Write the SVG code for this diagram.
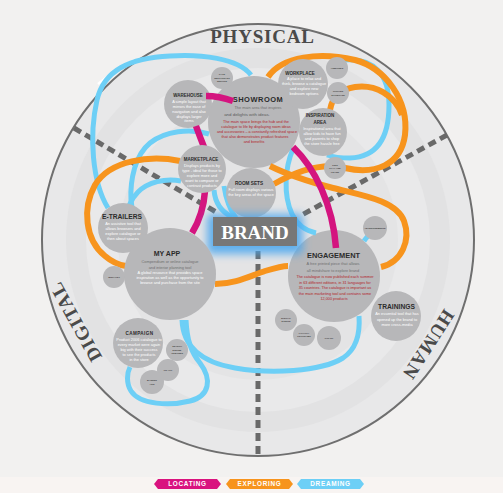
<svg xmlns="http://www.w3.org/2000/svg" width="503" height="493" viewBox="0 0 503 493">
<defs>
<style>
.node circle{fill:#b7b7b9}
.t{font-family:"Liberation Sans",Arial,sans-serif;text-anchor:middle}
.ttl{font-weight:bold;fill:#2b2b2b}
.w{fill:#ffffff;font-size:3.9px}
.g{fill:#707070;font-size:3.9px}
.r{fill:#b3262c;font-size:3.8px}
.tiny{fill:#3a3a3a;font-size:2.3px;font-weight:bold}
.blue{fill:none;stroke:#6dcff6;stroke-width:5}
.orange{fill:none;stroke:#f7941d;stroke-width:6}
.magenta{fill:none;stroke:#d4147f;stroke-width:6.5}
.dash{stroke:#696969;stroke-width:5;stroke-dasharray:8 5}
.sector{font-family:"Liberation Serif","Times New Roman",serif;font-weight:bold;fill:#4a4a4a;font-size:19px;text-anchor:middle}
.legend text{font-family:"Liberation Sans",Arial,sans-serif;font-weight:bold;font-size:6.4px;fill:#ffffff;text-anchor:middle;letter-spacing:0.7px}
</style>
<filter id="glow" x="-30%" y="-60%" width="160%" height="220%">
<feGaussianBlur stdDeviation="4"/>
</filter>
</defs>

<!-- page and disc -->
<rect width="503" height="493" fill="#f2f1f0"/>
<rect y="477" width="503" height="16" fill="#f8f4f2"/>
<g id="disc">
<circle cx="258" cy="240" r="216" fill="#e8e8e9" stroke="#6f6f6f" stroke-width="2"/>
<circle cx="258" cy="240" r="192" fill="#e2e2e3"/>
<circle cx="258" cy="240" r="172" fill="#e9e9ea"/>
<circle cx="258" cy="240" r="140" fill="#e4e4e5"/>
<path d="M98,84 A210,210 0 0 1 134,60" fill="none" stroke="#ffffff" stroke-width="2.5"/>
</g>

<!-- sector dividers -->
<g id="sectors">
<line class="dash" x1="74" y1="128" x2="216" y2="212"/>
<line class="dash" x1="447" y1="135" x2="300" y2="216"/>
<line class="dash" x1="258" y1="251" x2="258" y2="456"/>
</g>

<!-- sector titles -->
<g id="sector-labels">
<text class="sector" x="262.5" y="43" letter-spacing="0.8">PHYSICAL</text>
<text class="sector" transform="translate(75,322) rotate(-119)" y="7" letter-spacing="1">DIGITAL</text>
<text class="sector" transform="translate(429,345) rotate(123)" y="7" letter-spacing="1">HUMAN</text>
</g>

<!-- hub nodes that the locating routes enter -->
<g id="node-showroom" class="node">
<circle cx="254" cy="122" r="46"/>
<text class="t ttl" x="258" y="102" font-size="7.5" letter-spacing="0.5">SHOWROOM</text>
<text class="t g" x="258" y="109">The main area that inspires</text>
<text class="t" x="247" y="116" font-size="4.4" fill="#5a5a5a">and delights with ideas.</text>
<text class="t r" x="256" y="122.5">The main space brings the hub and the</text>
<text class="t r" x="256" y="127.5">catalogue to life by displaying room ideas</text>
<text class="t r" x="257" y="132.5">and accessories – a constantly refreshed space</text>
<text class="t r" x="255" y="137.5">that also demonstrates product features</text>
<text class="t r" x="254" y="143">and benefits</text>
</g>
<g id="node-warehouse" class="node">
<circle cx="188" cy="104" r="24"/>
<text class="t ttl" x="188" y="96.5" font-size="4.5">WAREHOUSE</text>
<text class="t w" x="189" y="102.5">A simple layout that</text>
<text class="t w" x="189" y="107.5">mirrors the ease of</text>
<text class="t w" x="189" y="112.5">navigation and also</text>
<text class="t w" x="189" y="117.5">displays larger</text>
<text class="t w" x="189" y="122">items</text>
</g>
<g id="node-engagement" class="node">
<circle cx="334" cy="276" r="46"/>
<text class="t ttl" x="333.5" y="258" font-size="7.4">ENGAGEMENT</text>
<text class="t g" x="333" y="264.5">A free printed piece that allows</text>
<text class="t g" x="333" y="271.5">all mindshare to explore brand</text>
<text class="t r" x="335" y="278">The catalogue is now published each summer</text>
<text class="t r" x="335" y="283.5">in 63 different editions, in 31 languages for</text>
<text class="t r" x="335" y="289">35 countries. The catalogue is important as</text>
<text class="t r" x="335" y="294.5">the main marketing tool and contains some</text>
<text class="t r" x="334" y="300">12,000 products</text>
</g>

<!-- routes: dreaming (blue), exploring (orange), locating (magenta) -->
<g id="connectors">
<path class="blue" d="M251,75 C238,58 200,54 170,56 C130,58 104,70 97,100 C89,135 92,182 108,208"/>
<path class="blue" d="M344,60 C374,57 389,75 389,105 C389,140 375,157 350,158 C340,158 333,157 327,155"/>
<path class="blue" d="M293,149 C285,167 283,195 292,214 C298,226 306,231 316,233"/>
<path class="blue" d="M182,320 C183,345 200,362 235,368 C270,374 320,372 343,358 C358,348 360,330 359,316"/>
<path class="blue" d="M186,320 C187,340 191,352 200,363 C212,379 210,396 190,401 C170,406 140,405 131,391 C126,383 127,373 130,367"/>
<path class="blue" d="M209,134 C190,128 165,131 150,143 C135,155 130,180 131,200 C132,212 135,220 140,224"/>
<path class="blue" d="M181,181 C165,178 148,182 138,192 C130,200 127,210 127,215"/>
<path class="blue" d="M364,241 Q366,238 369,235"/>
<path class="blue" d="M214,190 C215,203 222,212 232,217"/>
<path class="blue" d="M224,186 C226,200 230,210 236,218"/>

<path class="orange" d="M180,161 C150,155 110,160 95,185 C82,208 85,240 105,256 C112,262 119,265 126,266"/>
<path class="orange" d="M215,284 C235,284 250,276 265,271 C275,268 282,266 288,266"/>
<path class="orange" d="M381,267 C402,262 411,240 404,221 C396,200 360,195 333,188 C310,182 290,176 270,166"/>
<path class="orange" d="M274,184 C295,172 320,162 345,168 C375,175 401,165 405,135 C409,100 385,68 355,60 C320,52 282,56 268,77"/>
<path class="orange" d="M330,110 C332,98 340,89 355,87 C375,84 395,95 402,115"/>

<path class="magenta" d="M206,96 Q219,96 233,101"/>
<path class="magenta" d="M196,126 Q200,137 204,147"/>
<path class="magenta" d="M205,191 C204,205 200,220 192,233"/>
<path class="magenta" d="M293,147 C315,168 333,205 336,248"/>
</g>

<g id="node-cafe" class="node">
<circle cx="222" cy="78" r="11"/>
<text class="t tiny" x="222" y="75">CAFE</text>
<text class="t tiny" x="222" y="78.5">RESTAURANT</text>
<text class="t tiny" x="222" y="82">SERVICE</text>
</g>
<g id="node-workplace" class="node">
<circle cx="303" cy="84" r="25"/>
<text class="t ttl" x="300" y="74.5" font-size="4.5">WORKPLACE</text>
<text class="t w" x="304" y="80">A place to relax and</text>
<text class="t w" x="304" y="85">think, browse a catalogue</text>
<text class="t w" x="304" y="90">and explore new</text>
<text class="t w" x="304" y="95">bedroom options</text>
</g>
<g id="node-armoires" class="node">
<circle cx="337" cy="68" r="11"/>
<text class="t tiny" x="337" y="69">ARMOIRES</text>
</g>
<g id="node-kitchen" class="node">
<circle cx="338" cy="93" r="11"/>
<text class="t tiny" x="338" y="92">KITCHEN</text>
<text class="t tiny" x="338" y="95.5">SHOWCASE</text>
</g>
<g id="node-inspiration" class="node">
<circle cx="323" cy="132" r="24"/>
<text class="t ttl" x="320" y="117" font-size="4.5">INSPIRATION</text>
<text class="t ttl" x="320" y="123.5" font-size="4.5">AREA</text>
<text class="t w" x="322" y="129.5">Inspirational area that</text>
<text class="t w" x="322" y="134.5">allow kids to have fun</text>
<text class="t w" x="322" y="139.5">and parents to shop</text>
<text class="t w" x="322" y="144.5">the store hassle free</text>
</g>
<g id="node-kids" class="node">
<circle cx="335" cy="168" r="11"/>
<text class="t tiny" x="335" y="165.5">KIDS</text>
<text class="t tiny" x="335" y="169">PLAY AND</text>
<text class="t tiny" x="335" y="172.5">LEARN</text>
</g>
<g id="node-marketplace" class="node">
<circle cx="202" cy="169" r="24"/>
<text class="t ttl" x="201" y="160.5" font-size="4.5">MARKETPLACE</text>
<text class="t w" x="202" y="166.5">Displays products by</text>
<text class="t w" x="202" y="171.5">type - ideal for those to</text>
<text class="t w" x="202" y="176.5">explore more and</text>
<text class="t w" x="202" y="181.5">want to compare or</text>
<text class="t w" x="202" y="186.5">contrast products</text>
</g>
<g id="node-roomsets" class="node">
<circle cx="251" cy="193" r="25"/>
<text class="t ttl" x="249" y="185" font-size="4.7">ROOM SETS</text>
<text class="t w" x="251" y="190.5">Full room displays various</text>
<text class="t w" x="251" y="195.5">the key areas of the space</text>
</g>
<g id="node-brand">
<rect x="207" y="214" width="96" height="40" rx="4" fill="#4aa6ee" opacity="0.85" filter="url(#glow)"/>
<rect x="213" y="217" width="84" height="29" fill="#777777"/>
<text x="255" y="239" font-family="'Liberation Serif','Times New Roman',serif" font-weight="bold" font-size="19" fill="#ffffff" text-anchor="middle">BRAND</text>
</g>
<g id="node-etrailers" class="node">
<circle cx="123" cy="228" r="25"/>
<text class="t ttl" x="122" y="219" font-size="6.7">E-TRAILERS</text>
<text class="t w" x="123" y="224.5">An assistive tool that</text>
<text class="t w" x="123" y="229.5">allows browsers and</text>
<text class="t w" x="123" y="234.5">explore catalogue or</text>
<text class="t w" x="123" y="239.5">then about spaces</text>
</g>
<g id="node-myapp" class="node">
<circle cx="170" cy="274" r="46"/>
<text class="t ttl" x="167" y="256" font-size="7">MY APP</text>
<text class="t g" x="170" y="263">Compendium or online catalogue</text>
<text class="t g" x="170" y="268.5">and interior planning tool</text>
<text class="t w" x="170" y="274">A global resource that provides space</text>
<text class="t w" x="170" y="279">inspiration as well as the opportunity to</text>
<text class="t w" x="170" y="284">browse and purchase from the site</text>
</g>
<g id="node-wishlist" class="node">
<circle cx="114" cy="277" r="11"/>
<text class="t tiny" x="114" y="278">WISH LIST</text>
</g>
<g id="node-adverts" class="node">
<circle cx="375" cy="228" r="12"/>
<text class="t tiny" x="375" y="229">ADVERTISEMENTS</text>
</g>
<g id="node-trainings" class="node">
<circle cx="396" cy="316" r="25"/>
<text class="t ttl" x="396.5" y="309" font-size="6.7">TRAININGS</text>
<text class="t w" x="397" y="315">An essential tool that has</text>
<text class="t w" x="397" y="320.5">opened up the brand to</text>
<text class="t w" x="397" y="326">more cross-media</text>
</g>
<g id="node-events" class="node">
<circle cx="286" cy="320" r="11"/>
<text class="t tiny" x="286" y="318.5">SPECIAL</text>
<text class="t tiny" x="286" y="322">EVENTS</text>
</g>
<g id="node-loyalty" class="node">
<circle cx="304" cy="335" r="11"/>
<text class="t tiny" x="304" y="333.5">LOYALTY</text>
<text class="t tiny" x="304" y="337">PROGRAMS</text>
</g>
<g id="node-popup" class="node">
<circle cx="329" cy="338" r="12"/>
<text class="t tiny" x="329" y="339">POP UP</text>
</g>
<g id="node-campaign" class="node">
<circle cx="138" cy="343" r="25"/>
<text class="t ttl" x="139.5" y="335" font-size="4.6" letter-spacing="0.4">CAMPAIGN</text>
<text class="t w" x="139" y="340.5">Product 2006 catalogue to</text>
<text class="t w" x="139" y="345.5">every market were again</text>
<text class="t w" x="139" y="350.5">big with their success</text>
<text class="t w" x="139" y="355.5">to see the products</text>
<text class="t w" x="139" y="360.5">in the store</text>
</g>
<g id="node-search" class="node">
<circle cx="177" cy="350" r="11"/>
<text class="t tiny" x="177" y="347">SEARCH</text>
<text class="t tiny" x="177" y="350.5">ENGINE</text>
<text class="t tiny" x="177" y="354">ADWORDS</text>
</g>
<g id="node-prapp" class="node">
<circle cx="168" cy="370" r="11"/>
<text class="t tiny" x="168" y="371">PR APP</text>
</g>
<g id="node-banner" class="node">
<circle cx="152" cy="382" r="12"/>
<text class="t tiny" x="152" y="381">BANNER</text>
<text class="t tiny" x="152" y="384.5">ADS</text>
</g>

<!-- key -->
<g id="legend" class="legend">
<polygon points="154,484 158,479 217,479 221,484 217,489 158,489" fill="#d9137f"/>
<text x="187.5" y="486.4">LOCATING</text>
<polygon points="226,484 230,479 289,479 293,484 289,489 230,489" fill="#f7941d"/>
<text x="259.5" y="486.4">EXPLORING</text>
<polygon points="297,484 301,479 360,479 364,484 360,489 301,489" fill="#6dcff6"/>
<text x="330.5" y="486.4">DREAMING</text>
</g>
</svg>
